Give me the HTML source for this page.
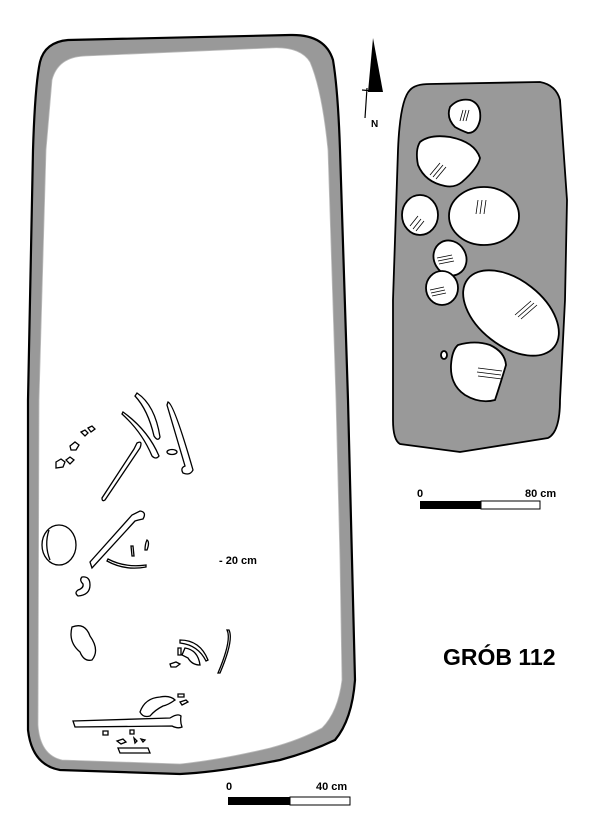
<!DOCTYPE html>
<html><head><meta charset="utf-8"><style>
html,body{margin:0;padding:0;background:#fff;}
svg{display:block;}
text{font-family:"Liberation Sans",Arial,sans-serif;font-weight:bold;fill:#000;}
</style></head><body>
<svg width="600" height="822" viewBox="0 0 600 822" xmlns="http://www.w3.org/2000/svg">
<!-- main grave -->
<path d="M40,62 Q45,42 68,40 L290,35 Q325,34 333,60 Q338,90 340,150 L348,400 L352,560 L355,680 Q352,720 335,740 Q310,752 280,760 Q220,772 180,774 L60,770 Q32,765 28,730 L28,400 L33,150 Q35,85 40,62 Z" fill="#999" stroke="#000" stroke-width="2.2"/>
<path d="M52,80 Q58,57 85,56 L270,48 Q300,46 310,62 Q322,90 328,150 L336,400 L340,560 L342,680 Q338,712 322,728 Q300,740 270,748 Q220,760 180,764 L62,760 Q40,755 38,725 L39,400 L46,150 Z" fill="#fff" stroke="#bbb" stroke-width="0.8"/>
<g fill="#fff" stroke="#000" stroke-width="1.3">
<!-- bones -->
<path d="M137,393 Q155,405 160,437 Q158,442 154,436 Q148,410 135,396 Z"/>
<path d="M123,412 Q148,430 159,456 Q156,460 152,456 Q142,432 122,414 Z"/>
<path d="M168,402 Q174,404 193,470 Q190,476 183,473 Q180,468 185,466 L167,405 Z"/>
<ellipse cx="172" cy="452" rx="5" ry="2.5"/>
<path d="M137,443 Q143,440 140,448 L105,500 Q102,502 102,498 L134,449 Z"/>
<path d="M56,462 l5,-3 4,3 -2,5 -7,1 Z M66,460 l4,-3 4,3 -4,4 Z M70,446 l5,-4 4,3 -3,5 -5,0 Z M81,432 l4,-2 3,3 -3,3 Z M88,428 l4,-2 3,3 -4,3 Z"/>
<ellipse cx="59" cy="545" rx="17" ry="20"/>
<path d="M49,530 Q44,545 50,560" fill="none"/>
<path d="M140,511 Q147,512 143,519 Q138,520 135,521 L92,568 L90,562 L132,515 Z"/>
<path d="M131,546 l2,0 1,10 -2,0 Z M147,540 q3,2 0,10 l-2,0 q0,-6 2,-10 Z"/>
<path d="M108,559 Q125,568 146,565 L146,567 Q125,571 107,561 Z"/>
<path d="M82,577 Q90,576 90,585 Q90,595 78,596 Q74,593 78,590 Q84,588 83,584 Q79,580 82,577 Z"/>
<path d="M72,627 Q85,622 90,636 Q100,650 92,660 Q84,662 80,652 Q68,642 72,627 Z"/>
<path d="M180,640 Q200,640 208,660 L206,661 Q198,645 180,643 Z M185,648 Q198,650 200,665 Q192,665 188,658 L182,655 Z M178,648 l3,0 0,7 -3,0 Z"/>
<path d="M227,630 Q232,640 218,673 L220,673 Q234,640 229,630 Z"/>
<path d="M170,664 l6,-2 4,2 -4,3 -5,0 Z"/>
<path d="M140,712 Q145,698 160,697 Q170,695 175,700 Q168,705 163,706 Q155,710 150,716 Q143,718 140,712 Z M178,694 l6,0 0,3 -6,0 Z M180,702 l6,-2 2,2 -6,3 Z"/>
<path d="M73,721 L170,718 Q178,713 181,716 Q180,722 182,727 Q178,729 172,726 L75,727 Z"/>
<path d="M103,731 l5,0 0,4 -5,0 Z M130,730 l4,0 0,4 -4,0 Z M117,741 l6,-2 3,3 -5,2 Z M134,738 l3,3 -2,2 Z M141,739 l4,1 -2,2 Z M118,748 L148,748 L150,753 L120,753 Z"/>
</g>
<text x="219" y="564" font-size="11">- 20 cm</text>
<!-- right stone bed -->
<path d="M410,90 Q415,84 430,84 L540,82 Q556,85 560,100 L567,200 L565,300 L560,400 Q560,432 548,438 L460,452 L400,444 Q393,440 393,420 L393,300 L398,150 Q400,100 410,90 Z" fill="#999" stroke="#000" stroke-width="1.8"/>
<g fill="#fff" stroke="#000" stroke-width="1.8">
<path d="M450,107 Q458,98 470,100 Q482,104 480,120 Q477,133 468,133 Q460,130 455,127 Q446,118 450,107 Z"/>
<path d="M420,142 Q430,134 450,137 Q475,142 480,158 Q478,168 462,182 Q455,188 445,186 Q425,182 418,165 Q415,150 420,142 Z"/>
<ellipse cx="420" cy="215" rx="18" ry="20"/>
<ellipse cx="484" cy="216" rx="35" ry="29"/>
<ellipse cx="450" cy="258" rx="16" ry="18" transform="rotate(-30 450 258)"/>
<ellipse cx="442" cy="288" rx="16" ry="17"/>
<ellipse cx="511" cy="313" rx="55" ry="33" transform="rotate(38 511 313)"/>
<path d="M458,345 Q475,340 490,345 Q505,352 506,365 Q500,385 495,400 Q480,404 465,395 Q450,385 451,365 Q452,350 458,345 Z"/>
<ellipse cx="444" cy="355" rx="3" ry="4"/>
</g>
<g stroke="#000" stroke-width="0.8" fill="none">
<path d="M463,110 l-3,11 M466,110 l-3,11 M469,110 l-3,11"/>
<path d="M430,175 l10,-12 M433,177 l10,-12 M436,179 l10,-12"/>
<path d="M410,226 l8,-10 M413,229 l8,-10 M416,231 l8,-10"/>
<path d="M478,200 l-2,14 M482,200 l-2,14 M486,200 l-2,14"/>
<path d="M437,258 l15,-3 M438,261 l15,-3 M439,264 l15,-3"/>
<path d="M430,290 l14,-3 M431,293 l14,-3 M432,296 l14,-3"/>
<path d="M515,315 l16,-14 M518,317 l16,-14 M521,319 l16,-14"/>
<path d="M478,368 l24,3 M477,372 l24,3 M478,376 l24,3"/>
</g>
<!-- north arrow -->
<path d="M373,38 L383,92 L368,92 Z" fill="#000"/>
<path d="M367,88 L365,118 M362,90 L373,91" stroke="#000" stroke-width="1.2" fill="none"/>
<text x="371" y="127" font-size="10">N</text>
<!-- scale 80 -->
<text x="417" y="497" font-size="11">0</text>
<text x="525" y="497" font-size="11">80 cm</text>
<rect x="420" y="501" width="61" height="8" fill="#000"/>
<rect x="481" y="501" width="59" height="8" fill="#fff" stroke="#000" stroke-width="1"/>
<!-- scale 40 -->
<text x="226" y="790" font-size="11">0</text>
<text x="316" y="790" font-size="11">40 cm</text>
<rect x="228" y="797" width="62" height="8" fill="#000"/>
<rect x="290" y="797" width="60" height="8" fill="#fff" stroke="#000" stroke-width="1"/>
<text x="443" y="665" font-size="23">GRÓB 112</text>
</svg>
</body></html>
